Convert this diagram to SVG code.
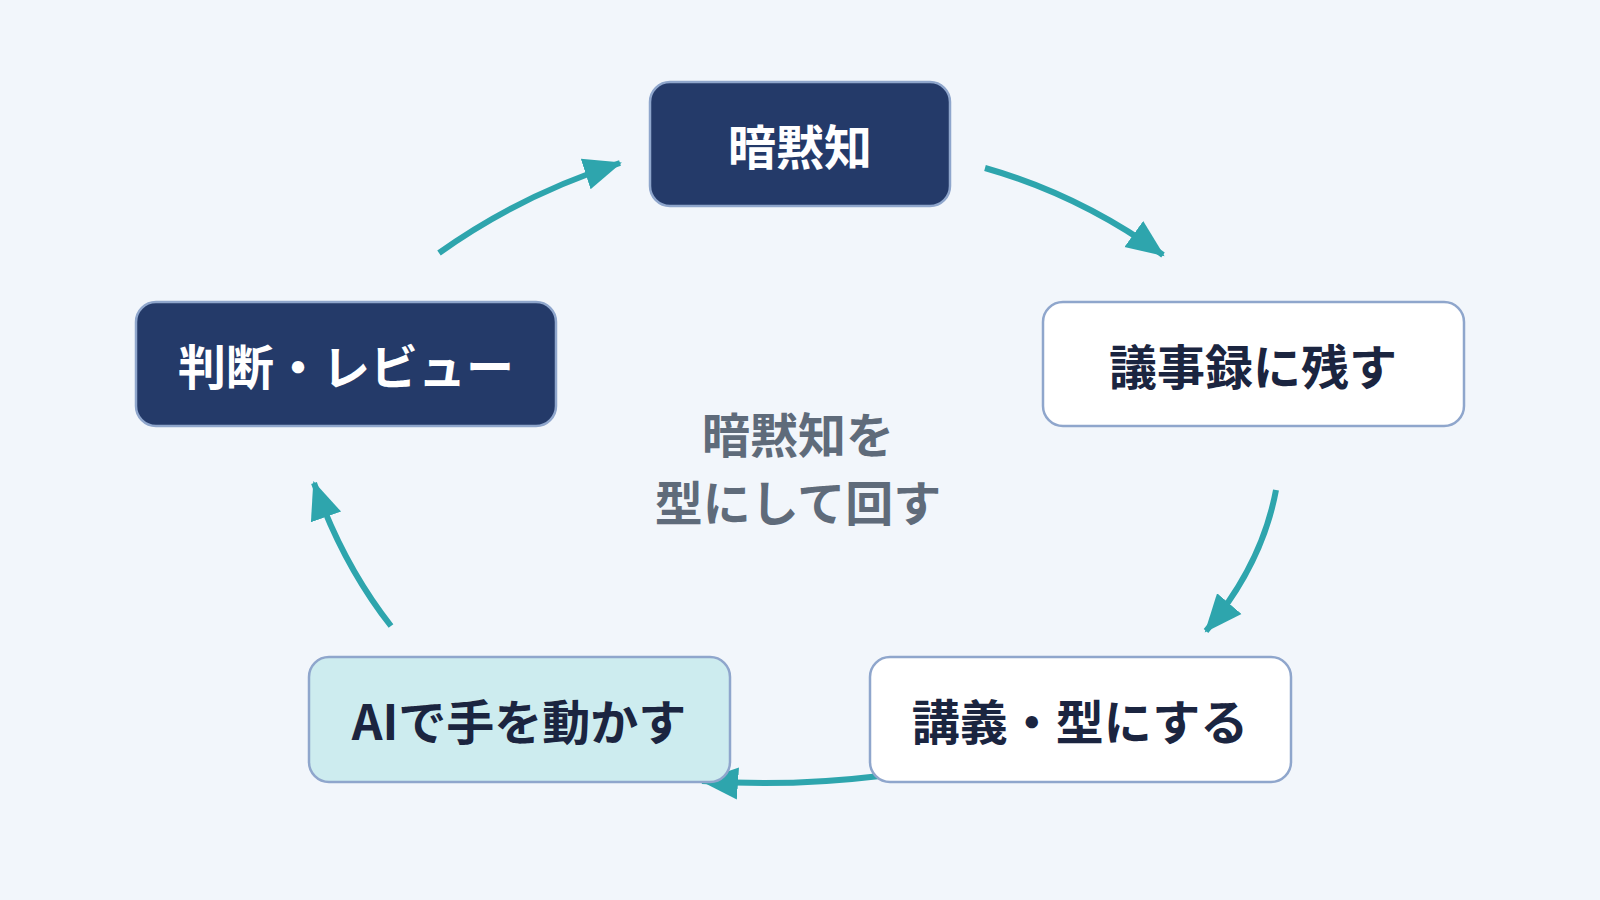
<svg xmlns="http://www.w3.org/2000/svg" width="1600" height="900" viewBox="0 0 1600 900">
<style>
.n rect{stroke:#8fa6cc;stroke-width:2.5}
.dark rect{fill:#243a69}
.light rect{fill:#ffffff}
.cyan rect{fill:#cdecef}
text{font-family:"Noto Sans CJK JP","Noto Sans",sans-serif;font-weight:700;text-anchor:middle;dominant-baseline:central}
.dark text{fill:#ffffff;font-size:48px}
.light text,.cyan text{fill:#1b2540;font-size:48px}
.c{fill:#5f6b7a;font-size:48px}
#edges path{fill:none;stroke:#2ea5ad;stroke-width:6;marker-end:url(#ah)}
</style>
<defs>
<marker id="ah" markerUnits="userSpaceOnUse" markerWidth="40" markerHeight="40" viewBox="0 0 40 40" refX="36" refY="20" orient="auto">
<path d="M0,4 L38,20 L0,36 z" fill="#2ea5ad"/>
</marker>
</defs>
<rect width="1600" height="900" fill="#f2f6fb"/>
<g id="edges">
<path d="M985,168 Q1080,195 1163,255"/>
<path d="M1276,490 Q1262,565 1206,631"/>
<path d="M880,776 Q790,787 702,781"/>
<path d="M391,626 Q343,565 314,483"/>
<path d="M439,253 Q520,195 620,163"/>
</g>
<g id="n1" class="n dark"><rect x="650" y="82" width="300" height="124" rx="20"/><text x="800" y="144">暗黙知</text></g>
<g id="n2" class="n light"><rect x="1043" y="302" width="421" height="124" rx="20"/><text x="1253" y="364">議事録に残す</text></g>
<g id="n3" class="n light"><rect x="870" y="657" width="421" height="125" rx="20"/><text x="1080" y="719">講義・型にする</text></g>
<g id="n4" class="n cyan"><rect x="309" y="657" width="421" height="125" rx="20"/><text x="519" y="719">AIで手を動かす</text></g>
<g id="n5" class="n dark"><rect x="136" y="302" width="420" height="124" rx="20"/><text x="346" y="364">判断・レビュー</text></g>
<g id="center"><text class="c" x="798" y="432">暗黙知を</text><text class="c" x="798" y="500">型にして回す</text></g>
</svg>
